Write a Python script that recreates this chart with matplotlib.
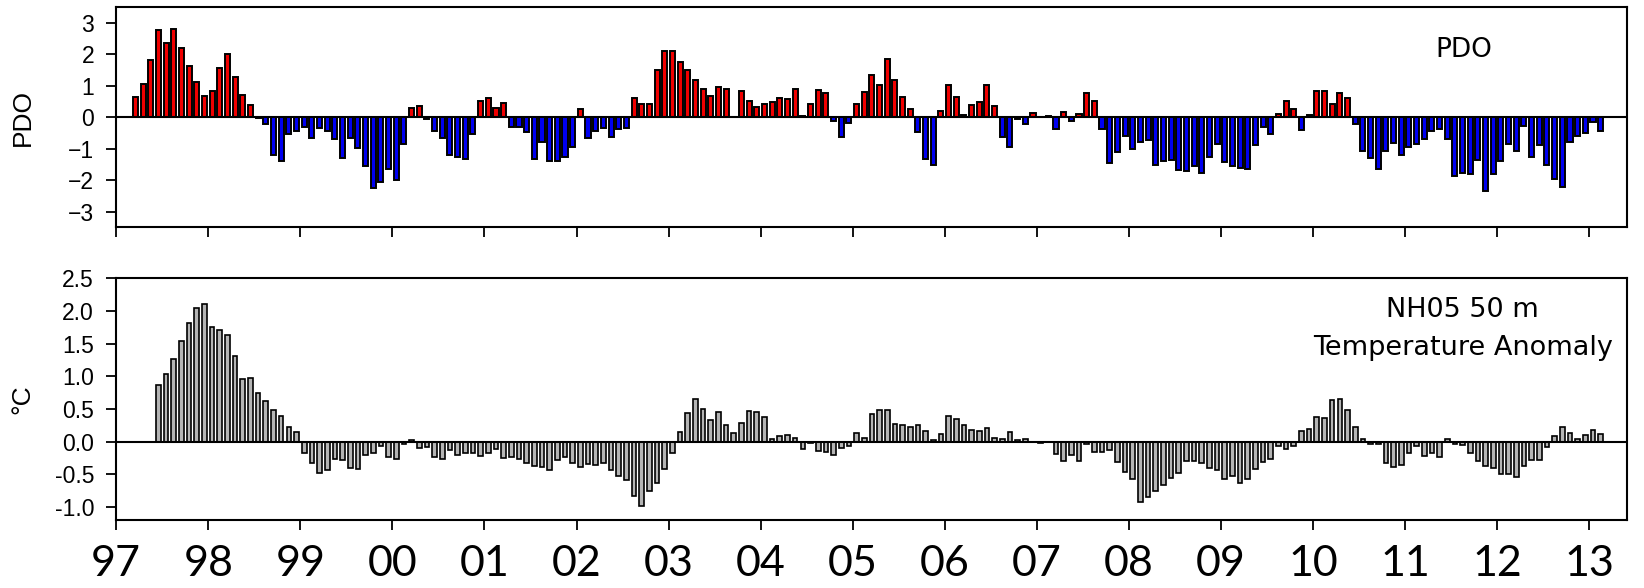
import numpy as np
import matplotlib.pyplot as plt
from matplotlib.ticker import FixedLocator, FormatStrFormatter

# Monthly PDO index, Mar 1997 - Feb 2013
pdo_start = (1997, 3)
pdo = [
    0.66, 1.05, 1.84, 2.77, 2.36, 2.81, 2.20, 1.62, 1.14, 0.68,
    0.84, 1.57, 2.02, 1.29, 0.70, 0.40, -0.03, -0.22, -1.21, -1.40,
    -0.53, -0.45, -0.32, -0.66, -0.33, -0.43, -0.69, -1.30, -0.66, -0.97,
    -1.54, -2.24, -2.05, -1.65, -2.01, -0.84, 0.29, 0.35, -0.05, -0.45,
    -0.66, -1.20, -1.26, -1.32, -0.53, 0.53, 0.61, 0.29, 0.45, -0.32,
    -0.31, -0.48, -1.33, -0.78, -1.38, -1.38, -1.27, -0.94, 0.28, -0.65,
    -0.44, -0.33, -0.64, -0.36, -0.33, 0.61, 0.44, 0.43, 1.52, 2.12,
    2.11, 1.77, 1.52, 1.19, 0.89, 0.69, 0.97, 0.89, 0.02, 0.84,
    0.53, 0.34, 0.44, 0.49, 0.63, 0.57, 0.89, 0.04, 0.44, 0.86,
    0.76, -0.12, -0.64, -0.17, 0.44, 0.82, 1.36, 1.03, 1.87, 1.18,
    0.66, 0.26, -0.47, -1.33, -1.51, 0.20, 1.03, 0.66, 0.06, 0.40,
    0.49, 1.04, 0.35, -0.64, -0.95, -0.05, -0.21, 0.14, 0.02, 0.04,
    -0.36, 0.17, -0.11, 0.11, 0.79, 0.51, -0.36, -1.46, -1.09, -0.59,
    -1.00, -0.77, -0.71, -1.52, -1.38, -1.35, -1.68, -1.71, -1.55, -1.77,
    -1.26, -0.86, -1.41, -1.56, -1.60, -1.66, -0.88, -0.32, -0.53, 0.10,
    0.53, 0.27, -0.39, 0.09, 0.84, 0.84, 0.44, 0.79, 0.63, -0.22,
    -1.06, -1.29, -1.63, -1.06, -0.83, -1.21, -0.94, -0.84, -0.69, -0.43,
    -0.37, -0.69, -1.87, -1.76, -1.80, -1.35, -2.34, -1.80, -1.39, -0.86,
    -1.06, -0.28, -1.27, -0.88, -1.52, -1.95, -2.21, -0.80, -0.59, -0.50,
    -0.14, -0.44,
]

# NH05 50 m temperature anomaly (deg C), Jun 1997 - Feb 2013
temp_start = (1997, 6)
temp_anom = [
    0.86, 1.04, 1.27, 1.54, 1.82, 2.04, 2.11, 1.75, 1.71, 1.63,
    1.31, 0.96, 0.97, 0.75, 0.62, 0.48, 0.39, 0.22, 0.14, -0.18,
    -0.32, -0.48, -0.44, -0.27, -0.28, -0.41, -0.42, -0.21, -0.17, -0.06,
    -0.23, -0.26, -0.03, 0.03, -0.09, -0.08, -0.23, -0.26, -0.13, -0.21,
    -0.17, -0.17, -0.22, -0.18, -0.12, -0.25, -0.24, -0.26, -0.32, -0.38,
    -0.39, -0.43, -0.28, -0.23, -0.33, -0.39, -0.34, -0.36, -0.33, -0.44,
    -0.53, -0.59, -0.83, -0.99, -0.76, -0.64, -0.42, -0.17, 0.14, 0.44,
    0.65, 0.50, 0.33, 0.46, 0.25, 0.13, 0.29, 0.47, 0.46, 0.38,
    0.04, 0.09, 0.10, 0.05, -0.12, -0.02, -0.14, -0.16, -0.21, -0.09,
    -0.06, 0.13, 0.05, 0.43, 0.49, 0.49, 0.27, 0.25, 0.22, 0.26,
    0.16, 0.03, 0.12, 0.39, 0.35, 0.25, 0.18, 0.16, 0.21, 0.06,
    0.04, 0.15, 0.03, 0.04, -0.01, -0.02, 0.00, -0.19, -0.30, -0.20,
    -0.29, -0.04, -0.16, -0.16, -0.13, -0.31, -0.46, -0.57, -0.92, -0.84,
    -0.76, -0.66, -0.56, -0.48, -0.29, -0.29, -0.32, -0.41, -0.43, -0.57,
    -0.53, -0.63, -0.57, -0.42, -0.31, -0.27, -0.06, -0.12, -0.07, 0.17,
    0.19, 0.38, 0.36, 0.63, 0.66, 0.48, 0.23, 0.04, -0.03, -0.03,
    -0.33, -0.39, -0.36, -0.18, -0.06, -0.22, -0.17, -0.23, 0.04, -0.04,
    -0.05, -0.17, -0.30, -0.37, -0.40, -0.50, -0.50, -0.54, -0.38, -0.28,
    -0.28, -0.08, 0.09, 0.22, 0.13, 0.04, 0.10, 0.18, 0.11,
]

years = list(range(1997, 2014))
year_labels = [f"{y % 100:02d}" for y in years]
pdo_ticks = [-3, -2, -1, 0, 1, 2, 3]
temp_ticks = [-1.0, -0.5, 0.0, 0.5, 1.0, 1.5, 2.0, 2.5]


def month_centers(start, n):
    """Decimal-year positions at the middle of each month."""
    y, m = start
    k = np.arange(n) + (m - 1)
    return y + (k + 0.5) / 12.0


def style_axes(ax, ylim, yticks):
    ax.set_xlim(1997.0, 2013.41)
    ax.set_ylim(*ylim)
    ax.xaxis.set_major_locator(FixedLocator(years))
    ax.yaxis.set_major_locator(FixedLocator(yticks))
    for sp in ax.spines.values():
        sp.set_linewidth(1.5)
    ax.tick_params(axis="both", direction="out", length=7, width=1.3)
    ax.tick_params(axis="y", labelsize=16.5, pad=9)
    ax.axhline(0, color="black", lw=1.5, zorder=3)


fig = plt.figure(figsize=(16.44, 5.88), dpi=100)
ax1 = fig.add_axes([0.0707, 0.6134, 0.9189, 0.3741])
ax2 = fig.add_axes([0.0707, 0.1156, 0.9189, 0.4111])

bar_w = 0.66 / 12

# --- PDO panel ---
x_pdo = month_centers(pdo_start, len(pdo))
pdo_arr = np.array(pdo)
colors = np.where(pdo_arr >= 0, "#f00000", "#0000f0")
ax1.bar(x_pdo, pdo_arr, width=bar_w, color=colors, edgecolor="black",
        linewidth=1.4, zorder=2)
style_axes(ax1, (-3.5, 3.5), pdo_ticks)
ax1.set_xticklabels([])
for lab in ax1.get_yticklabels():
    lab.set_fontfamily("Liberation Sans")
ax1.set_ylabel("PDO", fontsize=19, fontfamily="Liberation Sans", va="center")
ax1.yaxis.set_label_coords(-0.062, 0.5)
ax1.text(0.892, 0.775, "PDO", transform=ax1.transAxes, ha="center",
         va="baseline", fontsize=19, fontfamily="DejaVu Sans")

# --- temperature anomaly panel ---
x_temp = month_centers(temp_start, len(temp_anom))
ax2.bar(x_temp, temp_anom, width=bar_w * 0.92, color="#b4b4b4",
        edgecolor="black", linewidth=1.2, zorder=2)
style_axes(ax2, (-1.2, 2.5), temp_ticks)
ax2.yaxis.set_major_formatter(FormatStrFormatter("%.1f"))
for lab in ax2.get_yticklabels():
    lab.set_fontfamily("Liberation Sans")
ax2.set_xticklabels(year_labels, fontsize=31, fontfamily="Lato")
ax2.tick_params(axis="x", pad=11)
ax2.set_ylabel("°C", fontsize=19, fontfamily="Liberation Sans", va="center")
ax2.yaxis.set_label_coords(-0.062, 0.5)
ax2.text(0.891, 0.841, "NH05 50 m", transform=ax2.transAxes, ha="center",
         va="baseline", fontsize=19.5, fontfamily="DejaVu Sans")
ax2.text(0.8915, 0.683, "Temperature Anomaly", transform=ax2.transAxes,
         ha="center", va="baseline", fontsize=19.5, fontfamily="DejaVu Sans")

fig.savefig("out.png", dpi=100)
